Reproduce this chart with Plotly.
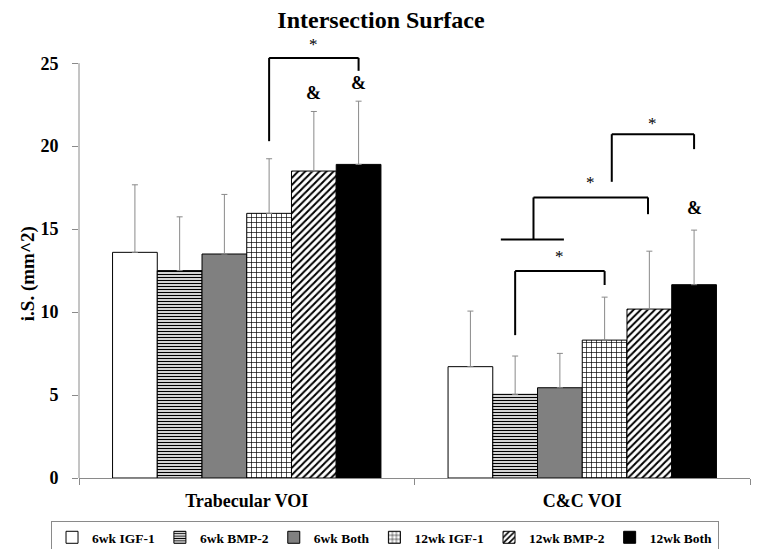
import plotly.graph_objects as go

# ---------------- data ----------------
categories = ["Trabecular VOI", "C&C VOI"]
series_names = ["6wk IGF-1", "6wk BMP-2", "6wk Both", "12wk IGF-1", "12wk BMP-2", "12wk Both"]

trab_means = [13.6, 12.5, 13.5, 15.95, 18.5, 18.9]
trab_sd = [4.07, 3.24, 3.59, 3.29, 3.59, 3.81]
cc_means = [6.71, 5.04, 5.44, 8.31, 10.18, 11.65]
cc_sd = [3.35, 2.31, 2.07, 2.59, 3.49, 3.29]

y_ticks = [0, 5, 10, 15, 20, 25]
y_title = "i.S. (mm^2)"

# significance brackets (positions as bar indices, heights in data units)
br_cat = [0, 1, 1, 1]
br_left = [3, 1, 1.41, 3.16]
br_right = [5, 3, 3.97, 5]
br_top = [25.32, 12.47, 16.91, 20.72]
br_left_bottom = [20.3, 8.61, 14.38, 17.85]
br_right_bottom = [24.54, 11.63, 15.9, 19.82]
br_star_y = [26.1, 13.33, 17.79, 21.36]

# "&" marks
amp_cat = [0, 0, 1]
amp_bar = [4, 5, 5]
amp_y = [23.2, 23.8, 16.27]

# ---------------- styling ----------------
FONT = "Liberation Serif"
GRAY = "#8a8a8a"
N = len(series_names)
GROUP = 0.8
styles = [
    dict(color="white"),
    dict(color="white", pattern=dict(shape="-", fgcolor="black", bgcolor="white", size=3, solidity=0.45, fillmode="replace")),
    dict(color="#808080"),
    dict(color="white", pattern=dict(shape="+", fgcolor="black", bgcolor="white", size=5, solidity=0.25, fillmode="replace")),
    dict(color="white", pattern=dict(shape="/", fgcolor="black", bgcolor="white", size=5, solidity=0.4, fillmode="replace")),
    dict(color="black"),
]


def bar_x(cat, idx):
    return cat - GROUP / 2 + GROUP / N * (idx + 0.5)


fig = go.Figure()
for i, name in enumerate(series_names):
    m = dict(styles[i])
    m["line"] = dict(color="black", width=1)
    fig.add_trace(go.Bar(
        name=name,
        x=categories,
        y=[trab_means[i], cc_means[i]],
        marker=m,
        error_y=dict(type="data", symmetric=False, array=[trab_sd[i], cc_sd[i]],
                     arrayminus=[0, 0], color=GRAY, thickness=1, width=3),
    ))

shapes = []
annotations = []
# y-axis line only up to the top tick
shapes.append(dict(type="line", xref="paper", yref="y", x0=0, x1=0, y0=0, y1=y_ticks[-1],
                   line=dict(color=GRAY, width=1)))

for k in range(len(br_cat)):
    xl = bar_x(br_cat[k], br_left[k])
    xr = bar_x(br_cat[k], br_right[k])
    ln = dict(color="black", width=2)
    shapes.append(dict(type="line", xref="x", yref="y", x0=xl, x1=xl, y0=br_left_bottom[k], y1=br_top[k], line=ln))
    shapes.append(dict(type="line", xref="x", yref="y", x0=xl, x1=xr, y0=br_top[k], y1=br_top[k], line=ln))
    shapes.append(dict(type="line", xref="x", yref="y", x0=xr, x1=xr, y0=br_right_bottom[k], y1=br_top[k], line=ln))
    annotations.append(dict(x=(xl + xr) / 2, y=br_star_y[k], xref="x", yref="y", text="*",
                            showarrow=False, font=dict(family=FONT, size=17, color="black")))

# T-shaped base of the middle C&C bracket
shapes.append(dict(type="line", xref="x", yref="y", x0=bar_x(1, 0.68), x1=bar_x(1, 2.09),
                   y0=br_left_bottom[2], y1=br_left_bottom[2], line=dict(color="black", width=2)))

for k in range(len(amp_cat)):
    annotations.append(dict(x=bar_x(amp_cat[k], amp_bar[k]), y=amp_y[k], xref="x", yref="y", text="&",
                            showarrow=False, font=dict(family=FONT, size=18, color="black", weight="bold")))

# y-axis title
annotations.append(dict(text=y_title, textangle=-90, xref="paper", yref="paper", x=-0.076, y=0.455,
                        xanchor="center", yanchor="middle", showarrow=False,
                        font=dict(family=FONT, size=19, weight="bold", color="black")))

fig.update_layout(
    width=762, height=549,
    margin=dict(l=79, r=12, t=30, b=71, autoexpand=False),
    paper_bgcolor="white", plot_bgcolor="white",
    font=dict(family=FONT, color="black"),
    barmode="group", bargap=1 - GROUP, bargroupgap=0,
    title=dict(text="Intersection Surface", x=0.5, xref="container", xanchor="center",
               y=1 - 20 / 549, yref="container", yanchor="middle",
               font=dict(family=FONT, size=24, weight="bold", color="black")),
    xaxis=dict(showline=True, linecolor=GRAY, linewidth=1, ticks="outside", tickson="boundaries",
               ticklen=6, tickcolor=GRAY, showgrid=False, zeroline=False, automargin=False,
               ticklabelstandoff=6,
               tickfont=dict(family=FONT, size=18, weight="bold", color="black")),
    yaxis=dict(range=[0, 27], tickvals=y_ticks, showline=False, ticks="outside", ticklen=6,
               tickcolor=GRAY, showgrid=False, zeroline=False, ticklabelstandoff=10, automargin=False,
               tickfont=dict(family=FONT, size=18, weight="bold", color="black")),
    legend=dict(orientation="h", xref="paper", x=-0.0417, xanchor="left",
                yref="paper", y=-0.096, yanchor="top",
                bordercolor=GRAY, borderwidth=1, bgcolor="white",
                font=dict(family=FONT, size=13.5, weight="bold", color="black")),
    shapes=shapes,
    annotations=annotations,
    showlegend=True,
)

fig.write_html("out.html", config={"displayModeBar": False},
               post_script="document.body.style.margin='0';")
